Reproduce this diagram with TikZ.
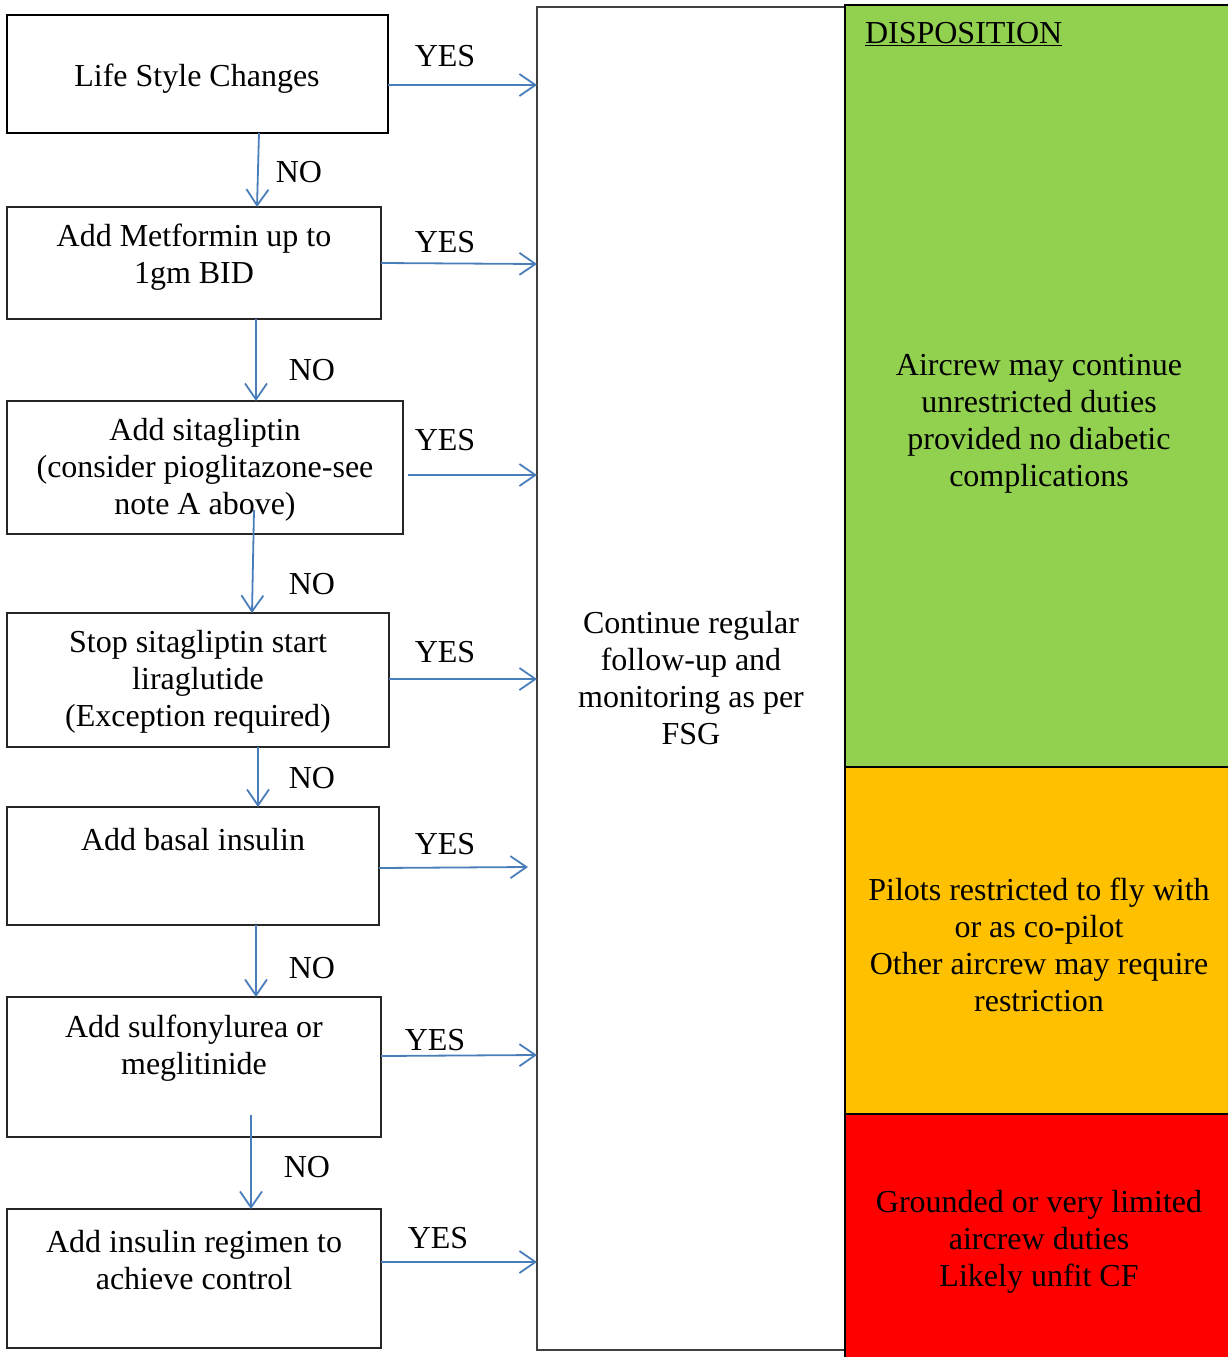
\documentclass[tikz,border=0pt]{standalone}
\usepackage{fontspec}
\setmainfont{Liberation Serif}
\usetikzlibrary{arrows.meta}
\definecolor{arrowblue}{HTML}{4A7EBB}
\definecolor{dgreen}{HTML}{92D050}
\definecolor{dorange}{HTML}{FFC000}
\definecolor{dred}{HTML}{FF0000}
\definecolor{boxline}{HTML}{262626}
\begin{document}
\begin{tikzpicture}[x=1pt,y=-1pt,
  every node/.style={inner sep=0pt, outer sep=0pt},
  txt/.style={font=\fontsize{32}{37}\selectfont, align=center, text=black},
  tx/.style={txt, yshift=-3pt},
  box/.style={draw=boxline, line width=1.4pt, fill=white},
  panel/.style={draw=black, line width=1.2pt},
  arr/.style={draw=arrowblue, line width=1.8pt, -{Straight Barb[length=16pt,width=22pt,line width=1.8pt]}},
  lbl/.style={font=\fontsize{32}{37}\selectfont, text=black, yshift=-1.5pt}
]
\useasboundingbox (0,0) rectangle (1228,1357);
% middle column
\node[draw=black!75, line width=1.4pt, minimum width=308pt, minimum height=1343pt, txt] (mid) at (691,678.5)
  {Continue regular\\follow-up and\\monitoring as per\\FSG};
% disposition panels
\node[panel, fill=dgreen, minimum width=389pt, minimum height=762pt] (pg) at (1039.5,386) {};
\node[panel, fill=dorange, minimum width=389pt, minimum height=347pt] (po) at (1039.5,940.5) {};
\node[panel, fill=dred, minimum width=389pt, minimum height=249pt] (pr) at (1039.5,1238.5) {};
\node[lbl, anchor=west] (disp) at (865,33) {\underline{DISPOSITION}};
\node[tx] (tg) at (1039,421) {Aircrew may continue\\unrestricted duties\\provided no diabetic\\complications};
\node[tx] (to) at (1039,942) {Pilots restricted to fly with\\or as co-pilot\\Other aircrew may require\\restriction};
\node[tx] (tr) at (1039,1239) {Grounded or very limited\\aircrew duties\\Likely unfit CF};
% left boxes
\node[box, draw=black, line width=2.2pt, minimum width=381pt, minimum height=118pt] (b1) at (197.5,74) {};
\node[box, minimum width=374pt, minimum height=112pt] (b2) at (194,263) {};
\node[box, minimum width=396pt, minimum height=133pt] (b3) at (205,467.5) {};
\node[box, minimum width=382pt, minimum height=134pt] (b4) at (198,680) {};
\node[box, minimum width=372pt, minimum height=118pt] (b5) at (193,866) {};
\node[box, minimum width=374pt, minimum height=140pt] (b6) at (194,1067) {};
\node[box, minimum width=374pt, minimum height=139pt] (b7) at (194,1278.5) {};
\node[tx] (t1) at (197,76) {Life Style Changes};
\node[tx] (t2) at (194,254) {Add Metformin up to\\1gm BID};
\node[tx] (t3) at (205,467) {Add sitagliptin\\(consider pioglitazone-see\\note A above)};
\node[tx] (t4) at (198,679) {Stop sitagliptin start\\liraglutide\\(Exception required)};
\node[tx] (t5) at (193,837) {Add basal insulin};
\node[tx] (t6) at (194,1045) {Add sulfonylurea or\\meglitinide};
\node[tx] (t7) at (194,1257) {Add insulin regimen to\\achieve control};
% NO arrows
\draw[arr] ([xshift=61.5pt]b1.south) -- ([xshift=63pt]b2.north);
\draw[arr] ([xshift=62pt]b2.south) -- ([xshift=51pt]b3.north);
\draw[arr] ([xshift=49pt,yshift=24pt]b3.south) -- ([xshift=54pt]b4.north);
\draw[arr] ([xshift=60pt]b4.south) -- ([xshift=65pt]b5.north);
\draw[arr] ([xshift=63pt]b5.south) -- ([xshift=62pt]b6.north);
\draw[arr] ([xshift=57pt,yshift=22pt]b6.south) -- ([xshift=57pt]b7.north);
\node[lbl] (n1) at (299,171) {NO};
\node[lbl] (n2) at (312,369) {NO};
\node[lbl] (n3) at (312,583) {NO};
\node[lbl] (n4) at (312,777) {NO};
\node[lbl] (n5) at (312,967) {NO};
\node[lbl] (n6) at (307,1166) {NO};
% YES arrows
\draw[arr] ([yshift=-11pt]b1.east) -- ([yshift=593.5pt]mid.west);
\draw[arr] (b2.east) -- ([yshift=414.5pt]mid.west);
\draw[arr] ([xshift=5pt,yshift=-7.5pt]b3.east) -- ([yshift=203.5pt]mid.west);
\draw[arr] ([yshift=1pt]b4.east) -- ([yshift=-0.5pt]mid.west);
\draw[arr] ([yshift=-2pt]b5.east) -- ([xshift=-9pt,yshift=-188.5pt]mid.west);
\draw[arr] ([yshift=11pt]b6.east) -- ([yshift=-376.5pt]mid.west);
\draw[arr] ([yshift=16.5pt]b7.east) -- ([yshift=-583.5pt]mid.west);
\node[lbl] (y1) at (445,55) {YES};
\node[lbl] (y2) at (445,241) {YES};
\node[lbl] (y3) at (445,439) {YES};
\node[lbl] (y4) at (445,651) {YES};
\node[lbl] (y5) at (445,843) {YES};
\node[lbl] (y6) at (435,1039) {YES};
\node[lbl] (y7) at (438,1237) {YES};
\end{tikzpicture}
\end{document}
